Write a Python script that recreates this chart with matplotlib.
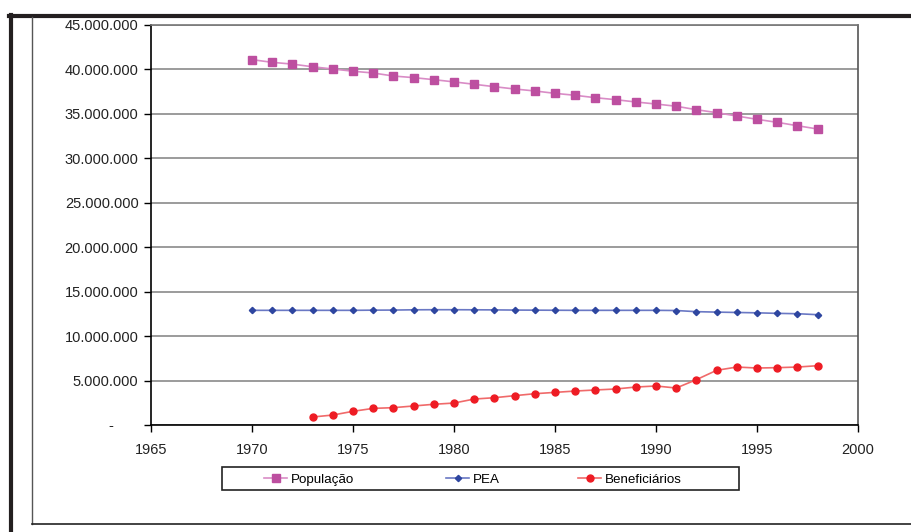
import matplotlib
matplotlib.use("Agg")
import matplotlib.pyplot as plt
from matplotlib.lines import Line2D
from matplotlib.patches import Rectangle
from matplotlib.ticker import FuncFormatter, MultipleLocator

plt.rcParams['font.family'] = ['Liberation Sans', 'DejaVu Sans']

years = list(range(1970, 1999))
populacao = [41.1, 40.8, 40.6, 40.3, 40.05, 39.8, 39.6, 39.26, 39.08, 38.85,
             38.6, 38.33, 38.06, 37.8, 37.58, 37.31, 37.09, 36.82, 36.6, 36.34,
             36.11, 35.86, 35.47, 35.14, 34.76, 34.39, 34.05, 33.67, 33.3]
pea = [12.9, 12.9, 12.9, 12.9, 12.9, 12.9, 12.92, 12.93, 12.96, 12.97,
       12.97, 12.96, 12.95, 12.93, 12.92, 12.91, 12.9, 12.9, 12.9, 12.9,
       12.9, 12.88, 12.75, 12.7, 12.66, 12.62, 12.56, 12.52, 12.41]
ben_years = list(range(1973, 1999))
beneficiarios = [0.9, 1.12, 1.54, 1.87, 1.95, 2.14, 2.33, 2.47, 2.92, 3.07,
                 3.3, 3.52, 3.67, 3.82, 3.94, 4.05, 4.27, 4.39, 4.16, 5.1,
                 6.15, 6.52, 6.41, 6.45, 6.52, 6.67]

labels = ['População', 'PEA', 'Beneficiários']

W, H = 911, 532
fig = plt.figure(figsize=(W / 100, H / 100), dpi=100)
ax = fig.add_axes([151 / W, 1 - 425 / H, (858 - 151) / W, (425 - 25) / H])

h1, = ax.plot(years, [v * 1e6 for v in populacao], color='#d98cc6', lw=1.2,
              marker='s', markersize=5.5, markerfacecolor='#bd4fa0',
              markeredgecolor='#bd4fa0', label=labels[0], zorder=3)
h2, = ax.plot(years, [v * 1e6 for v in pea], color='#6a78c4', lw=1.2,
              marker='D', markersize=3.2, markerfacecolor='#2e46a0',
              markeredgecolor='#2e46a0', label=labels[1], zorder=3)
h3, = ax.plot(ben_years, [v * 1e6 for v in beneficiarios], color='#f06a6a',
              lw=1.2, marker='o', markersize=5, markerfacecolor='#ee1c24',
              markeredgecolor='#ee1c24', label=labels[2], zorder=3)

ax.set_xlim(1965, 2000)
ax.set_ylim(0, 45e6)
ax.xaxis.set_major_locator(MultipleLocator(5))
ax.yaxis.set_major_locator(MultipleLocator(5e6))


def fmt(v, pos):
    if abs(v) < 1:
        return '-      '
    return f'{int(round(v)):,}'.replace(',', '.')


ax.yaxis.set_major_formatter(FuncFormatter(fmt))
ax.tick_params(axis='both', labelsize=10.5, colors='black', length=5,
               width=1, pad=4, labelcolor='#222222')
ax.tick_params(axis='x', pad=8)
ax.grid(axis='y', color='#8a8a8a', lw=1.2)
ax.set_axisbelow(True)
for s in ['left', 'bottom']:
    ax.spines[s].set_color('black')
    ax.spines[s].set_linewidth(1.2)
ax.spines['top'].set_color('#777777')
ax.spines['top'].set_linewidth(1.2)
ax.spines['right'].set_color('#555555')
ax.spines['right'].set_linewidth(1.2)

# legend frame
fig.add_artist(Rectangle((222 / W, 1 - 490 / H), 517 / W, 23 / H,
                         transform=fig.transFigure, fill=False,
                         edgecolor='#222222', lw=1.2))
leg_x = [264, 446, 578]
ycen = 1 - 480 / H
for i, (h, lab) in enumerate(zip([h1, h2, h3], labels)):
    lg = fig.legend([h], [lab], loc='center left',
                    bbox_to_anchor=(leg_x[i] / W, ycen),
                    bbox_transform=fig.transFigure, fontsize=9.6,
                    frameon=False, borderpad=0, borderaxespad=0,
                    handlelength=1.73, handletextpad=0.3)


def fline(x0, y0, x1, y1, lw, color):
    fig.add_artist(Line2D([x0 / W, x1 / W], [1 - y0 / H, 1 - y1 / H],
                          transform=fig.transFigure, lw=lw, color=color))


fline(9, 15.5, W, 15.5, 3, '#231f20')
fline(10.5, 15, 10.5, H, 3, '#231f20')
fline(32, 17, 32, 524, 1, '#555555')
fline(32, 524, W, 524, 1.2, '#222222')

fig.savefig('out.png', dpi=100)
